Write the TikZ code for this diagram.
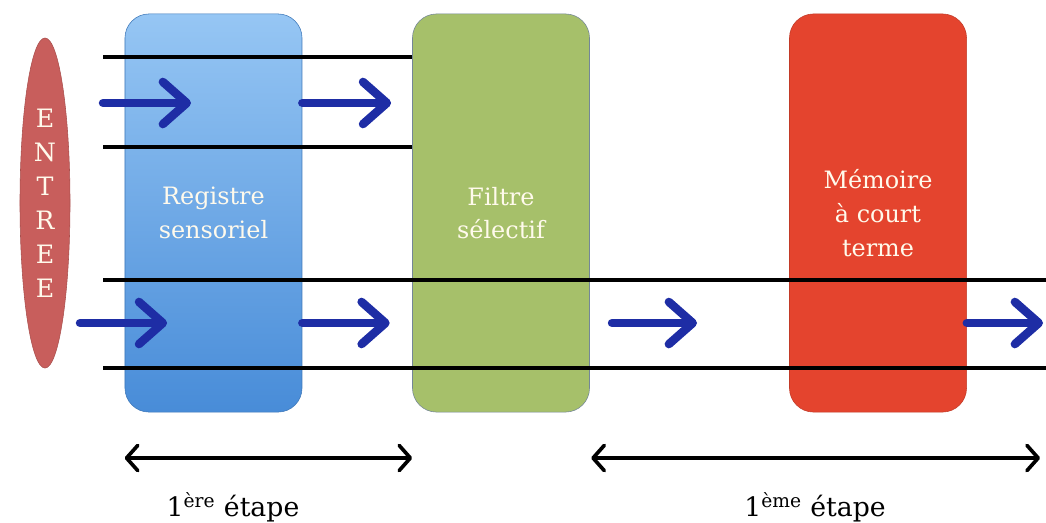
\documentclass[tikz,border=0pt]{standalone}
\usepackage{fontspec}
\setmainfont{DejaVu Serif}
\usetikzlibrary{arrows.meta,positioning,shapes.geometric}
\definecolor{etred}{RGB}{200,94,92}
\definecolor{etbluetop}{RGB}{150,198,244}
\definecolor{etbluebot}{RGB}{72,140,216}
\definecolor{etgreen}{RGB}{166,192,106}
\definecolor{etorange}{RGB}{228,68,46}
\definecolor{etarrow}{RGB}{30,45,165}
\definecolor{ettext}{RGB}{255,250,236}

\begin{document}
\begin{tikzpicture}[x=0.025cm, y=-0.025cm,
  box/.style={rounded corners=0.6cm, minimum width=4.425cm, minimum height=9.95cm,
    align=center, text=ettext, font=\fontsize{17}{24}\selectfont},
  flow/.style={etarrow, line width=6pt, line cap=round, -{Straight Barb[length=17pt,width=30pt,round]}},
  rail/.style={black, line width=2.8pt},
  spanarrow/.style={black, line width=2.6pt,
    {Straight Barb[length=8pt,width=18pt,round]}-{Straight Barb[length=8pt,width=18pt,round]}},
  steplabel/.style={font=\fontsize{19}{22}\selectfont, text=black}]
  \useasboundingbox (0,0) rectangle (1046,522);
  % Blocks
  \node[box, top color=etbluetop, bottom color=etbluebot, draw=etbluebot!85!black] (reg) at (213.5,213) {Registre\\sensoriel};
  \node[box, fill=etgreen, draw=etgreen!70!blue] (filtre) at (501,213) {Filtre\\sélectif};
  \node[box, fill=etorange, draw=etorange!85!black] (mct) at (878,213) {Mémoire\\à court\\terme};
  \node[ellipse, fill=etred, draw=etred!85!black, minimum width=1.25cm, minimum height=8.25cm,
    inner sep=0pt, align=center, text=ettext, font=\fontsize{18}{24.2}\selectfont] (entree) at (45,203)
    {E\\N\\T\\R\\E\\E};
  % Channels
  \coordinate (r1) at (103,57);
  \coordinate (r2) at (103,147);
  \coordinate (r3) at (103,280);
  \coordinate (r4) at (103,368);
  \coordinate (e3) at (1046,280);
  \coordinate (e4) at (1046,368);
  \draw[rail] (r1) -- (r1 -| filtre.west);
  \draw[rail] (r2) -- (r2 -| filtre.west);
  \draw[rail] (r3) -- (e3);
  \draw[rail] (r4) -- (e4);
  % Flow arrows
  \coordinate (in1) at (103,103);
  \coordinate (in2) at (80,323);
  \coordinate (m1) at (612,323);
  \coordinate (m2) at (697,323);
  \coordinate (out) at (1043,323);
  \draw[flow, shorten >=16pt] (in1) -- (reg.center |- in1);
  \draw[flow, shorten >=15pt] (reg.east |- in1) -- (filtre.west |- in1);
  \draw[flow, shorten >=33pt] (in2) -- (reg.center |- in2);
  \draw[flow, shorten >=16pt] (reg.east |- in2) -- (filtre.west |- in2);
  \draw[flow] (m1) -- (m2);
  \draw[flow] (mct.east |- in2) -- (out);
  % Stages
  \coordinate (s1) at (0,458);
  \coordinate (s2) at (1040,458);
  \draw[spanarrow] (reg.west |- s1) -- (filtre.west |- s1);
  \draw[spanarrow] ([xshift=1pt]filtre.east |- s1) -- (s2);
  \node[steplabel] (etape1) at (233,507) {1\textsuperscript{ère} étape};
  \node[steplabel] (etape2) at (815,507) {1\textsuperscript{ème} étape};
\end{tikzpicture}
\end{document}
